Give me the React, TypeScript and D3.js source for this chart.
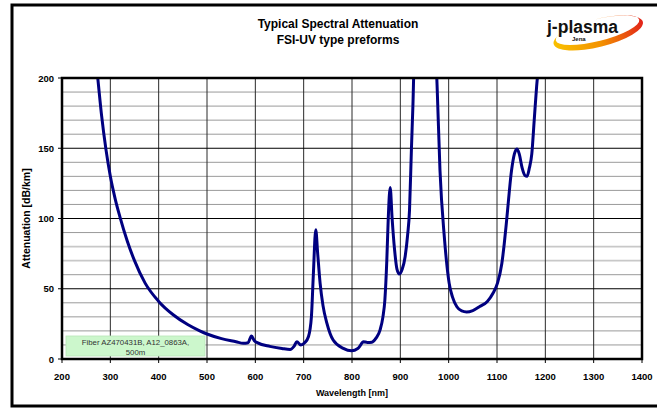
import React from 'react';
import * as d3 from 'd3';

const wavelengths = [262, 274, 282, 291, 300, 310, 320, 335, 350, 372, 400, 430, 460, 485, 500, 530, 560, 575, 585, 592, 598, 605, 630, 655, 672, 680, 686, 694, 702, 710, 716, 720, 725, 729, 734, 740, 748, 761, 782, 799, 812, 818, 823, 832, 841, 850, 858, 864, 868, 872, 875, 879, 883, 888, 893, 898, 904, 910, 915, 919, 923, 926, 930, 972, 976, 982, 991, 1001, 1008, 1017, 1027, 1037, 1050, 1065, 1080, 1092, 1101, 1110, 1115, 1120, 1130, 1136, 1141, 1146, 1152, 1158, 1162, 1167, 1172, 1177, 1182, 1188];
const attenuation = [240, 200, 173, 149, 130, 114, 101, 84, 70, 54, 41, 31.5, 24.5, 20, 17.8, 14.5, 12.3, 11.2, 11.6, 16.4, 13, 11.5, 9, 7.5, 6.8, 9, 12.3, 10, 11.5, 16, 30, 60, 92, 75, 54, 38, 25.6, 13.5, 7.6, 5.9, 7.5, 10, 12.3, 11.8, 12, 15, 20.6, 30, 42, 70, 100, 122, 100, 78, 64, 60.5, 64, 73, 88, 106, 150, 180, 225, 225, 195, 134.5, 87, 54, 44, 37.2, 34.2, 33.5, 34.5, 37.5, 41, 47, 54, 68, 82, 99, 134, 146, 149.5, 146, 136, 130.5, 130, 136, 146, 170, 194, 215];

const xTicks = [200, 300, 400, 500, 600, 700, 800, 900, 1000, 1100, 1200, 1300, 1400];
const yTicks = [0, 50, 100, 150, 200];
const yMinor = [10, 20, 30, 40, 60, 90, 110, 120, 130, 140, 160, 170, 180, 190];
const yLight = [70, 80];
const titleLines = ['Typical Spectral Attenuation', 'FSI-UV type preforms'];
const legendLines = ['Fiber AZ470431B, A12_0863A,', '500m'];
const xLabel = 'Wavelength  [nm]';
const yLabel = 'Attenuation [dB/km]';

const L = 62, R = 642, T = 78, B = 359;
const FONT = '"Liberation Sans", Arial, sans-serif';

export default function App() {
  const x = d3.scaleLinear().domain([200, 1400]).range([L, R]);
  const y = d3.scaleLinear().domain([0, 200]).range([B, T]);
  const pts = wavelengths.map((w, i) => [w, attenuation[i]] as [number, number]);
  const line = d3.line<[number, number]>()
    .x(d => x(d[0]))
    .y(d => y(d[1]))
    .curve(d3.curveMonotoneX);

  return (
    <svg width={657} height={408} style={{ position: 'fixed', left: 0, top: 0, background: '#fff' }} fontFamily={FONT}>
      <defs>
        <clipPath id="plotClip">
          <rect x={L} y={T} width={R - L} height={B - T} />
        </clipPath>
        <linearGradient id="swoosh" x1="0" x2="1" y1="0" y2="0">
          <stop offset="0" stopColor="#f9c000" />
          <stop offset="0.5" stopColor="#f39200" />
          <stop offset="1" stopColor="#e2231a" />
        </linearGradient>
      </defs>
      <rect x={0} y={0} width={657} height={408} fill="#fff" />
      {/* outer frame */}
      <rect x={12} y={5} width={700} height={401} fill="none" stroke="#000" strokeWidth={3} />

      {/* title */}
      {titleLines.map((t, i) => (
        <text key={t} x={338} y={28 + i * 16} textAnchor="middle" fontSize={12} fontWeight="bold">{t}</text>
      ))}

      {/* logo */}
      <g>
        <path
          transform="rotate(-14 598 32)"
          d="M552,33 a46,14 0 1,0 92,0 a46,14 0 1,0 -92,0 Z M555,30 a43,11 0 1,1 86,0 a43,11 0 1,1 -86,0 Z"
          fill="url(#swoosh)" fillRule="evenodd"
        />
        <text x={547} y={33} fontSize={18} fontWeight="bold" textLength={71} lengthAdjust="spacingAndGlyphs" fill="#111">j-plasma</text>
        <text x={572} y={41} fontSize={6} fontWeight="bold" fill="#111">Jena</text>
      </g>

      {/* gridlines */}
      {yMinor.map(v => (
        <line key={'m' + v} x1={L} x2={R} y1={y(v)} y2={y(v)} stroke="#9a9a9a" strokeWidth={1} />
      ))}
      {yLight.map(v => (
        <line key={'l' + v} x1={L} x2={R} y1={y(v)} y2={y(v)} stroke="#c8c8c8" strokeWidth={1.6} />
      ))}
      {xTicks.slice(1, -1).map(v => (
        <line key={'v' + v} x1={x(v)} x2={x(v)} y1={T} y2={B} stroke="#2a2a2a" strokeWidth={1} />
      ))}
      {yTicks.slice(1, -1).map(v => (
        <line key={'M' + v} x1={L} x2={R} y1={y(v)} y2={y(v)} stroke="#000" strokeWidth={1} />
      ))}

      {/* legend box */}
      <rect x={66} y={336} width={139} height={20} fill="#ccf7cc" stroke="#b8e6b8" strokeWidth={0.8} />
      {legendLines.map((t, i) => (
        <text key={t} x={135.5} y={344.5 + i * 10.5} textAnchor="middle" fontSize={7.8} fill="#333">{t}</text>
      ))}

      {/* curve */}
      <path d={line(pts) || ''} fill="none" stroke="#000080" strokeWidth={3} clipPath="url(#plotClip)" strokeLinejoin="round" />

      {/* plot border */}
      <rect x={L} y={T} width={R - L} height={B - T} fill="none" stroke="#000" strokeWidth={2.5} />

      {/* ticks */}
      {yTicks.map(v => (
        <g key={'yt' + v}>
          <line x1={L - 4} x2={L} y1={y(v)} y2={y(v)} stroke="#000" strokeWidth={1} />
          <text x={54} y={y(v) + 3.5} textAnchor="end" fontSize={9.5} fontWeight="bold">{v}</text>
        </g>
      ))}
      {xTicks.map(v => (
        <g key={'xt' + v}>
          <line x1={x(v)} x2={x(v)} y1={B} y2={B + 4} stroke="#000" strokeWidth={1} />
          <text x={x(v)} y={380} textAnchor="middle" fontSize={9.5} fontWeight="bold">{v}</text>
        </g>
      ))}

      {/* axis labels */}
      <text x={352} y={396} textAnchor="middle" fontSize={9} fontWeight="bold">{xLabel}</text>
      <text transform={`translate(30, ${(T + B) / 2}) rotate(-90)`} textAnchor="middle" fontSize={10.5} fontWeight="bold">{yLabel}</text>
    </svg>
  );
}
